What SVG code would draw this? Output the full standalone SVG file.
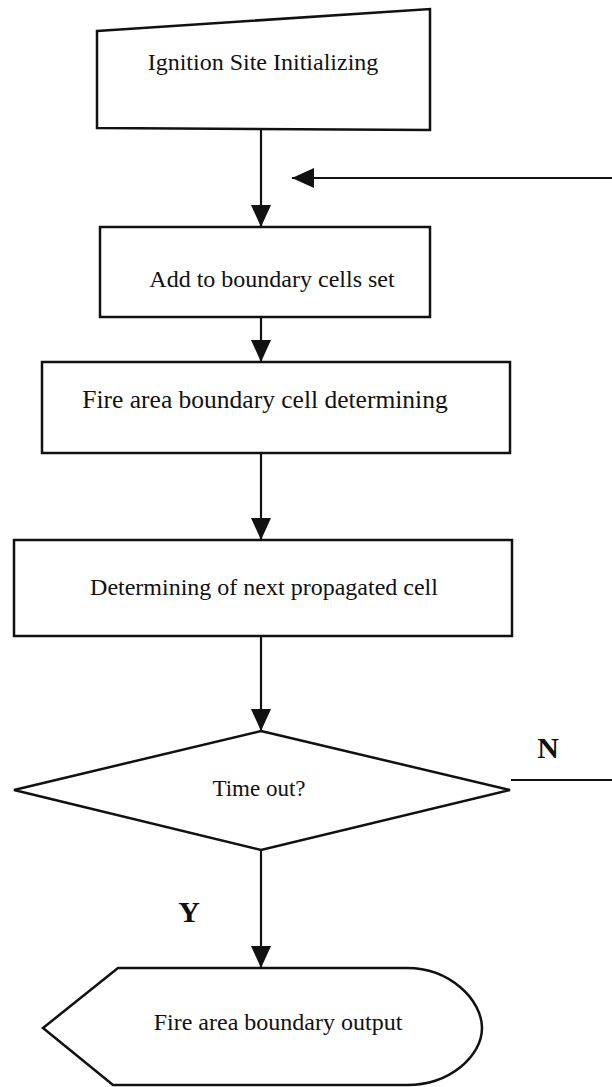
<svg xmlns="http://www.w3.org/2000/svg" width="612" height="1087" viewBox="0 0 612 1087">
  <defs>
    <style>
      .shape { fill: #ffffff; stroke: #111111; stroke-width: 2.5; stroke-linejoin: miter; }
      .label { font-family: "Liberation Serif", "Times New Roman", serif; font-size: 24px; fill: #111111; text-anchor: middle; dominant-baseline: central; }
      .branch { font-family: "Liberation Serif", "Times New Roman", serif; font-size: 30px; font-weight: bold; fill: #111111; text-anchor: middle; dominant-baseline: central; }
      .link { fill: none; stroke: #111111; stroke-width: 2.2; }
    </style>
    <marker id="arrow" viewBox="0 0 22 20" refX="22" refY="10" markerWidth="22" markerHeight="20" markerUnits="userSpaceOnUse" orient="auto">
      <path d="M0,0 L22,10 L0,20 Z" fill="#111111"/>
    </marker>
  </defs>

  <rect width="612" height="1087" fill="#ffffff"/>

  <!-- flow connectors -->
  <g id="connectors">
    <line class="link" x1="261" y1="130" x2="261" y2="227" marker-end="url(#arrow)"/>
    <line class="link" x1="261" y1="318" x2="261" y2="362" marker-end="url(#arrow)"/>
    <line class="link" x1="261" y1="453" x2="261" y2="540" marker-end="url(#arrow)"/>
    <line class="link" x1="261" y1="637" x2="261" y2="731" marker-end="url(#arrow)"/>
    <line class="link" x1="261" y1="850" x2="261" y2="968" marker-end="url(#arrow)"/>
    <!-- "N" branch loops back to the boundary-cell step -->
    <path class="link" d="M511,780 H614 V178 H292" marker-end="url(#arrow)"/>
    <text class="branch" x="548" y="747">N</text>
    <text class="branch" x="189" y="911">Y</text>
  </g>

  <!-- manual input: ignition site -->
  <g id="ignition">
    <path class="shape" d="M97,31 L430,9 L430,130 L97,128 Z"/>
    <text class="label" x="263" y="62">Ignition Site Initializing</text>
  </g>

  <g id="add-boundary">
    <rect class="shape" x="100" y="227" width="330" height="90"/>
    <text class="label" x="272" y="279">Add to boundary cells set</text>
  </g>

  <g id="boundary-determining">
    <rect class="shape" x="42" y="362" width="468" height="91"/>
    <text class="label" x="265" y="399" style="font-size:25.5px">Fire area boundary cell determining</text>
  </g>

  <g id="next-cell">
    <rect class="shape" x="14" y="540" width="498" height="96"/>
    <text class="label" x="264" y="587">Determining of next propagated cell</text>
  </g>

  <g id="timeout">
    <path class="shape" d="M261,731 L510,790 L261,850 L14,790 Z"/>
    <text class="label" x="259" y="788" style="font-size:23px">Time out?</text>
  </g>

  <!-- display shape: output -->
  <g id="output">
    <path class="shape" d="M118,968 L407,968 C450,968 482,1000 482,1028 C482,1056 450,1085 407,1085 L113,1085 L43,1028 Z"/>
    <text class="label" x="278" y="1022">Fire area boundary output</text>
  </g>
</svg>
